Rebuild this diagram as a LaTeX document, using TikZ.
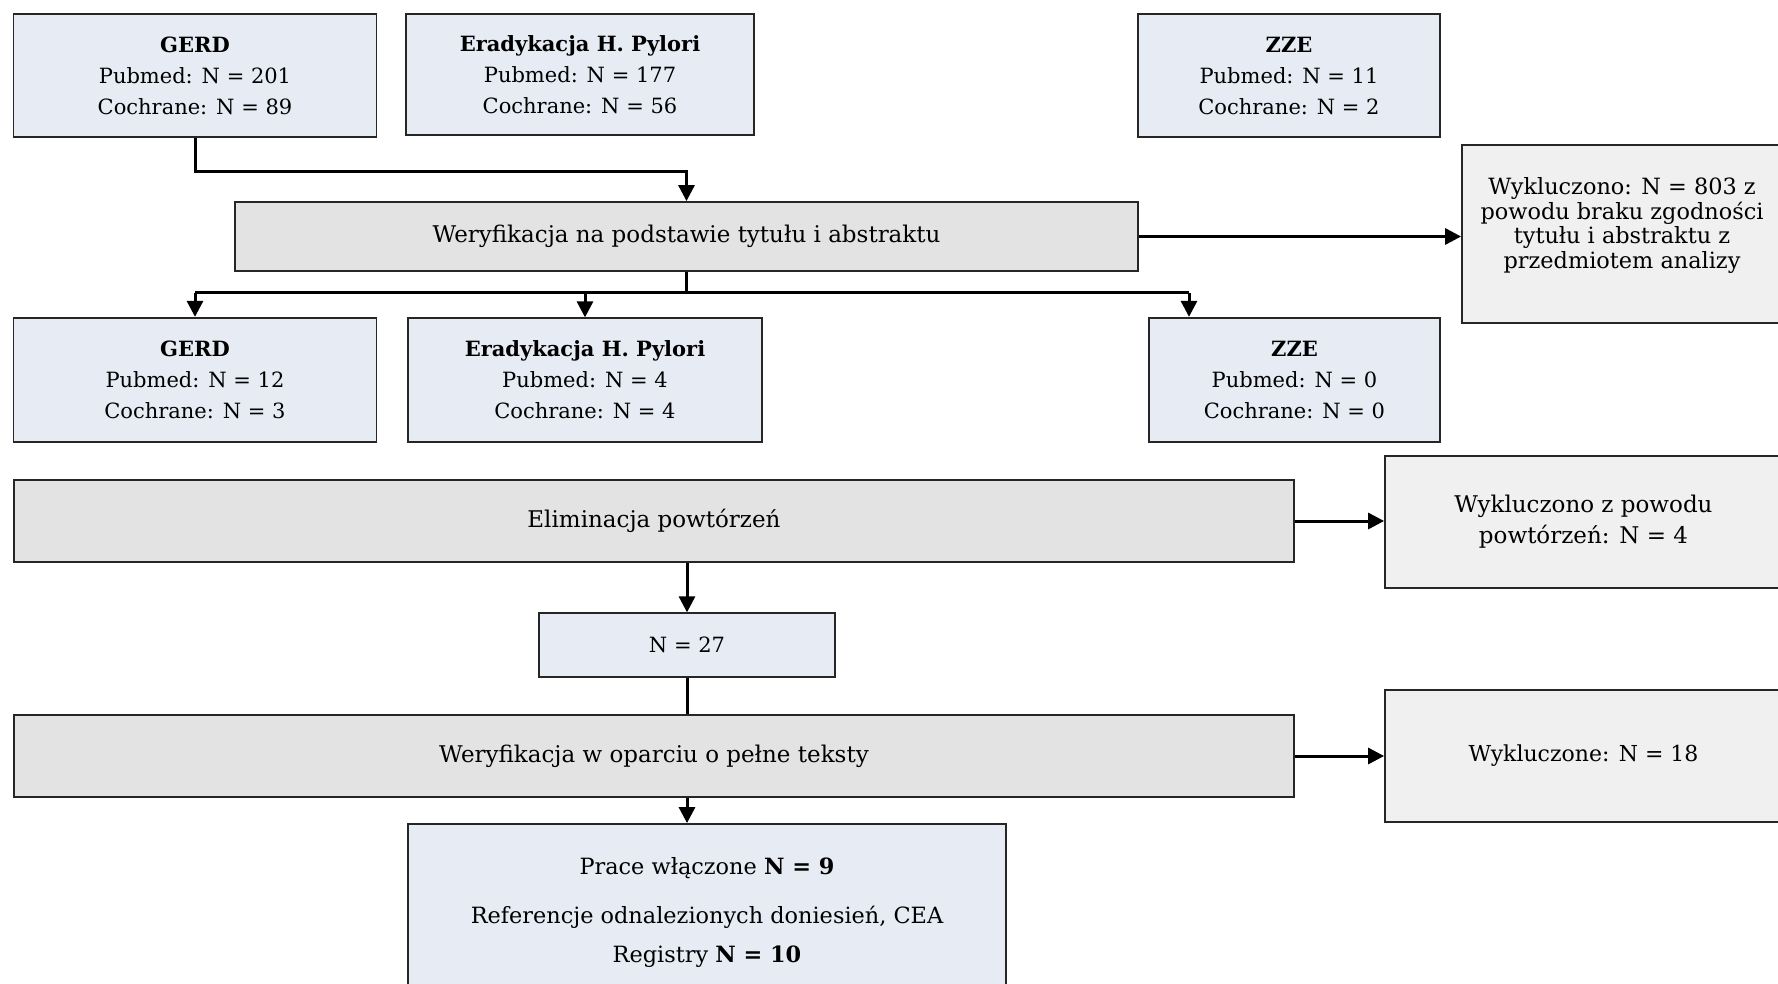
\documentclass[tikz,border=0pt]{standalone}
\usepackage{fontspec}
\setmainfont{DejaVu Serif}
\usetikzlibrary{arrows.meta}
\definecolor{bluebox}{HTML}{E6EBF4}
\definecolor{graybox}{HTML}{E3E3E3}
\definecolor{exclbox}{HTML}{F0F0F0}
\tikzset{
 box/.style={draw=black!85, line width=0.9pt, align=center, inner sep=2pt, font=\fontsize{10.5}{15.5}\selectfont},
 datab/.style={box, fill=bluebox},
 procb/.style={box, fill=graybox, font=\fontsize{11.5}{15.5}\selectfont},
 exclb/.style={box, fill=exclbox, font=\fontsize{11.5}{15.5}\selectfont},
 conn/.style={line width=1.5pt, -{Triangle[length=8pt,width=8pt]}},
 plainline/.style={line width=1.5pt},
}
\begin{document}
\begin{tikzpicture}[x=0.5pt,y=-0.5pt]
\clip (0,0) rectangle (1778,984);
\fill[white] (0,0) rectangle (1778,984);
% top row
\node[datab, minimum width=181.5pt, minimum height=61.75pt] (gerd1) at (195,75.5) {\textbf{GERD}\\Pubmed: N = 201\\Cochrane: N = 89};
\node[datab, minimum width=174pt, minimum height=60.5pt] (erad1) at (580,74.5) {\textbf{Eradykacja H. Pylori}\\Pubmed: N = 177\\Cochrane: N = 56};
\node[datab, minimum width=150.75pt, minimum height=61.75pt] (zze1) at (1289,75.5) {\textbf{ZZE}\\Pubmed: N = 11\\Cochrane: N = 2};
% screening
\node[procb, minimum width=451.75pt, minimum height=34.5pt] (weryf) at (686.5,236.5) {Weryfikacja na podstawie tytułu i abstraktu};
\node[exclb, minimum width=160pt, minimum height=89pt, font=\fontsize{11.2}{12.6}\selectfont] (wyk803) at (1622,234) {Wykluczono: N = 803 z\\[-0.4pt]powodu braku zgodności\\[-0.4pt]tytułu i abstraktu z\\[-0.4pt]przedmiotem analizy\\[-1.6pt]};
% second row
\node[datab, minimum width=181.5pt, minimum height=62.25pt] (gerd2) at (195,380) {\textbf{GERD}\\Pubmed: N = 12\\Cochrane: N = 3};
\node[datab, minimum width=177pt, minimum height=61.75pt] (erad2) at (585,380) {\textbf{Eradykacja H. Pylori}\\Pubmed: N = 4\\Cochrane: N = 4};
\node[datab, minimum width=145.5pt, minimum height=62.25pt] (zze2) at (1294.5,380) {\textbf{ZZE}\\Pubmed: N = 0\\Cochrane: N = 0};
% duplicates
\node[procb, minimum width=640.25pt, minimum height=41pt] (elim) at (654,521) {Eliminacja powtórzeń};
\node[exclb, minimum width=198.5pt, minimum height=66.25pt] (wyk4) at (1583.5,522) {Wykluczono z powodu\\powtórzeń: N = 4};
\node[datab, minimum width=148pt, minimum height=31.75pt] (n27) at (687,645) {N = 27};
% full text
\node[procb, minimum width=640.25pt, minimum height=40.75pt] (weryf2) at (654,756) {Weryfikacja w oparciu o pełne teksty};
\node[exclb, minimum width=198.5pt, minimum height=66.25pt, font=\fontsize{11}{15.5}\selectfont] (wyk18) at (1583.5,756) {Wykluczone: N = 18};
\node[datab, minimum width=299pt, minimum height=88pt, font=\fontsize{11.2}{15.5}\selectfont] (final) at (707,912) {Prace włączone \textbf{N = 9}\\[9pt]Referencje odnalezionych doniesień, CEA\\[4pt]Registry \textbf{N = 10}};
% connectors
\draw[conn] (gerd1.south) -- ++(0,33) -| (weryf.north);
\draw[conn] (weryf.east) -- (weryf.east -| wyk803.west);
\draw[plainline] (weryf.south) -- ++(0,21) coordinate (junction);
\coordinate (zzein) at ([xshift=-52.75pt]zze2.north);
\draw[plainline] (gerd2.north |- junction) -- (zzein |- junction);
\draw[conn] (gerd2.north |- junction) -- (gerd2.north);
\draw[conn] (erad2.north |- junction) -- (erad2.north);
\draw[conn] (zzein |- junction) -- (zzein);
\draw[conn] (elim.east) -- (elim.east -| wyk4.west);
\draw[conn] (n27.north |- elim.south) -- (n27.north);
\draw[plainline] (n27.south) -- (n27.south |- weryf2.north);
\draw[conn] (weryf2.east) -- (weryf2.east -| wyk18.west);
\draw[conn] (n27.south |- weryf2.south) -- (n27.south |- final.north);
\end{tikzpicture}
\end{document}
